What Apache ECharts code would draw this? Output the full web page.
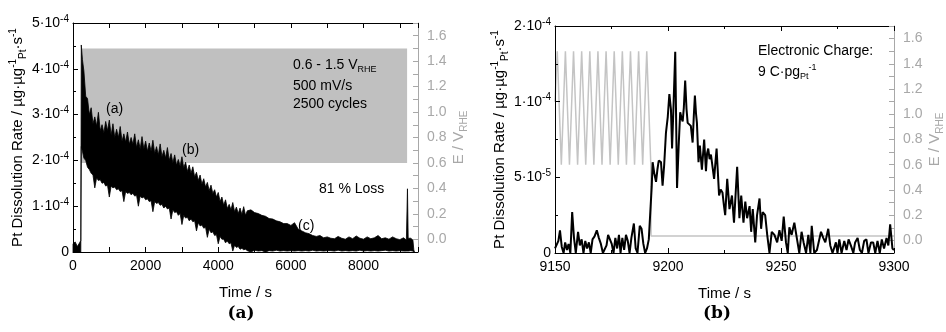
<!DOCTYPE html>
<html><head><meta charset="utf-8">
<script src="https://cdn.jsdelivr.net/npm/echarts@6/dist/echarts.min.js"></script>
<style>html,body{margin:0;padding:0;background:#fff}#c{width:946px;height:332px}</style>
</head><body><div id="c"></div>
<script>
// ---------- Panel (a): Pt dissolution during 2500 cycles ----------
// time in s; rates in units of 1e-4 µg·µg⁻¹·s⁻¹ (upper / lower envelope of the dense signal)
const timeA = [0, 60, 120, 180, 215, 228, 260,
  300, 350, 400, 450, 500, 550, 600, 650, 700, 750,
  800, 850, 900, 950, 1000, 1050, 1100, 1150, 1200, 1250,
  1300, 1350, 1400, 1450, 1500, 1550, 1600, 1650, 1700, 1750,
  1800, 1850, 1900, 1950, 2000, 2050, 2100, 2150, 2200, 2250,
  2300, 2350, 2400, 2450, 2500, 2550, 2600, 2650, 2700, 2750,
  2800, 2850, 2900, 2950, 3000, 3050, 3100, 3150, 3200, 3250,
  3300, 3350, 3400, 3450, 3500, 3550, 3600, 3650, 3700, 3750,
  3800, 3850, 3900, 3950, 4000, 4050, 4100, 4150, 4200, 4250,
  4300, 4350, 4400, 4450, 4500, 4550, 4600, 4650, 4700, 4750,
  4800, 4900, 5000, 5100, 5200, 5300, 5400, 5500, 5600, 5700,
  5800, 5900, 6000, 6100, 6200, 6300, 6400, 6500, 6600, 6700,
  6800, 6900, 7000, 7100, 7200, 7300, 7400, 7500, 7600, 7700,
  7800, 7900, 8000, 8100, 8200, 8300, 8400, 8500, 8600, 8700,
  8800, 8900, 9000, 9100,
  9180, 9210, 9230, 9300, 9360, 9385, 9400];
const upperA = [0.18, 0.22, 0.12, 0.2, 0.25, 4.52, 4.2,
  3.95, 3.4, 3.35, 3.0, 3.15, 2.8, 2.95, 2.75, 3.05, 2.65,
  2.78, 2.6, 2.85, 2.65, 2.88, 2.55, 2.8, 2.5, 2.68, 2.5,
  2.74, 2.42, 2.58, 2.4, 2.62, 2.35, 2.5, 2.35, 2.58, 2.28,
  2.45, 2.25, 2.52, 2.25, 2.42, 2.2, 2.38, 2.2, 2.44, 2.15,
  2.3, 2.12, 2.36, 2.08, 2.22, 2.05, 2.28, 2.0, 2.15, 1.95,
  2.12, 1.9, 2.02, 1.88, 2.08, 1.84, 1.96, 1.76, 1.9, 1.72,
  1.86, 1.64, 1.74, 1.56, 1.68, 1.48, 1.6, 1.42, 1.52, 1.34,
  1.46, 1.28, 1.36, 1.2, 1.3, 1.1, 1.2, 1.02, 1.14, 0.95,
  1.04, 0.92, 1.08, 0.88, 0.98, 0.84, 0.96, 0.82, 0.99, 0.8,
  0.9, 0.92, 0.86, 0.84, 0.8, 0.78, 0.73, 0.72, 0.68, 0.66,
  0.62, 0.62, 0.58, 0.64, 0.5, 0.46, 0.42, 0.4, 0.36, 0.34,
  0.36, 0.31, 0.33, 0.3, 0.29, 0.34, 0.3, 0.28, 0.33, 0.29,
  0.35, 0.3, 0.28, 0.33, 0.29, 0.31, 0.36, 0.29, 0.31, 0.28,
  0.33, 0.29, 0.27, 0.31,
  0.26, 1.38, 0.3, 0.3, 0.26, 0.05, 0];
const lowerA = [0, 0, 0, 0, 0, 2.3, 2.2,
  2.05, 2.0, 1.85, 1.8, 1.72, 1.68, 1.4, 1.62, 1.56, 1.58,
  1.5, 1.52, 1.44, 1.46, 1.2, 1.44, 1.4, 1.42, 1.36, 1.38,
  1.32, 1.34, 1.1, 1.32, 1.28, 1.3, 1.25, 1.28, 1.22, 1.24,
  1.0, 1.22, 1.18, 1.2, 1.14, 1.16, 1.1, 1.12, 0.88, 1.1,
  1.06, 1.08, 1.02, 1.04, 0.96, 1.0, 0.94, 0.96, 0.72, 0.92,
  0.86, 0.88, 0.8, 0.84, 0.6, 0.8, 0.74, 0.76, 0.68, 0.72,
  0.66, 0.68, 0.46, 0.64, 0.57, 0.59, 0.52, 0.54, 0.32, 0.5,
  0.42, 0.44, 0.36, 0.38, 0.18, 0.34, 0.28, 0.28, 0.2, 0.24,
  0.18, 0.2, 0.02, 0.15, 0.1, 0.12, 0.06, 0.08, 0.05, 0.06,
  0.03, 0.0, 0.04, 0.02, 0.03, 0.0, 0.03, 0.02, 0.04, 0.02,
  0.03, 0.02, 0.03, 0.02, 0.03, 0.02, 0.03, 0.02, 0.04, 0.02,
  0.03, 0.02, 0.03, 0.03, 0.02, 0.04, 0.02, 0.03, 0.02, 0.03,
  0.02, 0.04, 0.02, 0.03, 0.02, 0.03, 0.02, 0.03, 0.04, 0.02,
  0.03, 0.02, 0.03, 0.02,
  0.02, 0.02, 0.02, 0.03, 0.02, 0, 0];
const cycleWindowA = [230, 9200];   // s, potential cycling period
const potentialWindow = [0.6, 1.5]; // V_RHE
const yTicksA = ['0', '1·10^-4', '2·10^-4', '3·10^-4', '4·10^-4', '5·10^-4'];

// ---------- Panel (b): end of cycling ----------
// rates in units of 1e-5
const timeB = [
  9150, 9150.8, 9151.5, 9152.2, 9153, 9153.8, 9154.5, 9155.3, 9156, 9156.8,
  9157.6, 9158.4, 9159.2, 9160.2, 9161, 9161.8, 9162.6, 9163.4, 9164.2, 9165,
  9165.8, 9166.6, 9167.5, 9168.5, 9169.4, 9170.3, 9171.2, 9172, 9172.8, 9173.5,
  9174.3, 9175.1, 9175.9, 9176.7, 9177.5, 9178.3, 9179, 9179.8, 9180.6, 9181.4,
  9182.2, 9183, 9183.8, 9184.9, 9185.7, 9186.5, 9187.5, 9188.3, 9189.1, 9189.9,
  9190.7, 9191.5, 9192.2, 9192.8, 9193.2, 9194.0, 9194.7, 9195.3, 9195.9, 9196.9,
  9197.6, 9198.3, 9199.1, 9199.9, 9200.6, 9201.3, 9201.8, 9202.5, 9203.2, 9204.0,
  9204.7, 9205.4, 9206.0, 9206.5, 9207.0, 9207.6, 9208.2, 9208.7, 9209.4, 9210.1,
  9210.9, 9211.4, 9211.9, 9212.4, 9212.8, 9213.5, 9214.1, 9215.0, 9216.0, 9216.8,
  9217.3, 9217.8, 9218.4, 9219.0, 9219.7, 9220.4, 9221.0, 9221.5, 9222.0, 9222.6,
  9223.3, 9224.1, 9224.7, 9225.3, 9226.2, 9227.2, 9228.3, 9229.2, 9230.6, 9231.6,
  9232.4, 9233.4, 9234.2, 9235.0, 9236.1, 9236.8, 9237.5, 9238.6, 9239.4, 9240.5,
  9241.2, 9241.9, 9243.0, 9243.9, 9244.9, 9245.9, 9247.1, 9248.3, 9249.3, 9250.3,
  9251.2, 9252.2, 9253.0, 9253.7, 9254.7, 9255.9, 9257.1, 9258.1, 9259.1, 9260.0,
  9261.1, 9262.1, 9263.0, 9263.6, 9264.7, 9265.9, 9267.7, 9268.7, 9269.6, 9270.9,
  9271.8, 9272.8, 9274.3, 9275.0, 9275.8, 9276.8, 9278.0, 9279.0, 9279.9, 9280.9,
  9282.0, 9282.8, 9283.9, 9284.9, 9285.8, 9286.8, 9287.8, 9288.7, 9289.8, 9290.8,
  9291.7, 9292.7, 9293.7, 9294.6, 9295.6, 9296.7, 9297.5, 9298.3, 9299.3, 9300];
const rateB = [
  0.3, 0.2, 0.8, 1.5, 0.4, 0.0, 0.7, 0.2, 0.6, 0.0,
  2.7, 1.0, 0.0, 1.4, 0.5, 0.9, 0.0, 0.8, 0.3, 0.7,
  0.0, 0.9, 1.1, 1.5, 1.0, 0.6, 0.0, 0.0, 0.5, 1.2,
  1.1, 0.6, 0.0, 1.0, 0.3, 1.2, 0.0, 1.0, 0.2, 1.2,
  0.8, 0.0, 1.0, 1.95, 0.3, 0.0, 1.8, 1.6, 0.6, 0.0,
  0.3, 0.9, 0.8, 4.4, 6.0, 5.2, 4.7, 5.5, 6.1, 6.0,
  4.45, 5.8, 7.96, 9.0, 10.5, 9.5, 6.9, 10.0, 13.3, 4.3,
  7.0, 9.3, 8.9, 8.7, 9.6, 11.4, 9.5, 8.6, 8.7, 8.4,
  7.3, 9.0, 10.4, 9.2, 8.6, 6.0, 7.1, 5.5, 7.5, 5.4,
  6.6, 6.9, 6.2, 6.5, 6.5, 4.9, 6.0, 6.9, 5.5, 3.8,
  4.2, 4.0, 3.2, 2.5, 4.9, 2.9, 3.8, 2.0, 5.7, 2.3,
  3.8, 2.0, 3.4, 2.3, 3.1, 1.4, 2.9, 0.7, 2.5, 3.6,
  1.6, 2.7, 2.5, 1.2, 0.0, 1.4, 1.2, 0.7, 1.5, 0.8,
  2.4, 0.7, 0.0, 1.7, 1.2, 2.0, 0.9, 0.0, 1.4, 0.7,
  0.0, 1.2, 0.0, 1.8, 0.0, 0.2, 1.4, 1.0, 0.7, 1.6,
  0.5, 0.0, 0.7, 0.0, 0.9, 0.0, 0.8, 0.2, 0.9, 0.5,
  0.0, 0.7, 1.0, 0.2, 0.0, 0.8, 0.9, 0.0, 0.7, 0.7,
  0.0, 0.8, 0.0, 0.9, 0.3, 1.0, 0.5, 1.9, 0.3, 0.2];
const eTimeB = [9150, 9151, 9152.8, 9154.6, 9156.4, 9158.2, 9160, 9161.8, 9163.6, 9165.4,
  9167.2, 9169, 9170.8, 9172.6, 9174.4, 9176.2, 9178, 9179.8, 9181.6, 9183.4,
  9185.2, 9187, 9188.8, 9190.6, 9192.4, 9192.5, 9300];
const eValB = [1.1, 1.5, 0.6, 1.5, 0.6, 1.5, 0.6, 1.5, 0.6, 1.5,
  0.6, 1.5, 0.6, 1.5, 0.6, 1.5, 0.6, 1.5, 0.6, 1.5,
  0.6, 1.5, 0.6, 1.5, 0.6, 0.035, 0.035];
const yTicksB = ['0', '5·10^-5', '1·10^-4', '2·10^-4'];

// ---------- drawing ----------
const FONT = "'Liberation Sans', Arial, Helvetica, sans-serif";
const GRAY = '#a8a8a8';
const BLACK = '#000';

function sci(s) {
  const p = s.split('^');
  return p.length > 1 ? '{n|' + p[0] + '}{s|' + p[1] + '}' : '{n|' + p[0] + '}';
}
function richSet(color, size) {
  return {
    n: { fontSize: size, fontFamily: FONT, color: color, lineHeight: 18 },
    s: { fontSize: 10, fontFamily: FONT, color: color, lineHeight: 12, verticalAlign: 'top' },
    b: { fontSize: 10, fontFamily: FONT, color: color, lineHeight: 12, verticalAlign: 'bottom' }
  };
}
function titleRich(color) {
  return {
    n: { fontSize: 15, fontFamily: FONT, color: color, lineHeight: 20 },
    s: { fontSize: 10, fontFamily: FONT, color: color, lineHeight: 12, verticalAlign: 'top' },
    b: { fontSize: 10, fontFamily: FONT, color: color, lineHeight: 12, verticalAlign: 'bottom' }
  };
}
const rateTitle = '{n|Pt Dissolution Rate / µg·µg}{s|-1}{b|Pt}{n|·s}{s|-1}';
const eTitle = '{n|E / V}{b|RHE}';

function rightLabel(v) {
  const k = Math.round(v * 10);
  if (k < 0 || k > 16 || k % 2 !== 0) return '';
  return (k / 10).toFixed(1);
}

function bottomX(grid, min, max, interval, labelFn, minor) {
  return {
    gridIndex: grid, type: 'value', position: 'bottom', min: min, max: max, interval: interval, z: 5,
    axisLine: { onZero: false, lineStyle: { color: BLACK, width: 1 } },
    axisTick: { inside: true, length: 5, lineStyle: { color: BLACK } },
    minorTick: { show: minor, splitNumber: 2, length: 3, lineStyle: { color: BLACK } },
    splitLine: { show: false },
    axisLabel: { color: BLACK, fontSize: 14, fontFamily: FONT, margin: 7, formatter: labelFn, showMaxLabel: true },
    name: 'Time / s', nameLocation: 'middle', nameGap: 33,
    nameTextStyle: { color: BLACK, fontSize: 15, fontFamily: FONT }
  };
}
function topX(grid, min, max, interval, minor) {
  return {
    gridIndex: grid, type: 'value', position: 'top', min: min, max: max, interval: interval,
    axisLine: { onZero: false, lineStyle: { color: BLACK, width: 1 } },
    axisTick: { inside: true, length: 5, lineStyle: { color: BLACK } },
    minorTick: { show: minor, splitNumber: 2, length: 3, lineStyle: { color: BLACK } },
    splitLine: { show: false }, axisLabel: { show: false }
  };
}
function leftY(grid, max, interval, ticks) {
  return {
    gridIndex: grid, type: 'value', position: 'left', min: 0, max: max, interval: interval, z: 5,
    axisLine: { show: true, onZero: false, lineStyle: { color: BLACK, width: 1 } },
    axisTick: { show: true, inside: true, length: 5, lineStyle: { color: BLACK } },
    minorTick: { show: true, splitNumber: 2, length: 3, lineStyle: { color: BLACK } },
    splitLine: { show: false },
    axisLabel: { margin: 4, formatter: v => sci(ticks[Math.round(v / interval)] || ''), rich: richSet(BLACK, 14) },
    name: rateTitle, nameLocation: 'middle', nameGap: 44, nameRotate: 90,
    nameTextStyle: { rich: titleRich(BLACK) }
  };
}
function rightY(grid) {
  return {
    gridIndex: grid, type: 'value', position: 'right', min: -0.1, max: 1.7, interval: 0.1,
    axisLine: { show: true, onZero: false, lineStyle: { color: GRAY, width: 1 } },
    axisTick: { show: true, inside: true, length: 5, lineStyle: { color: GRAY } },
    splitLine: { show: false },
    axisLabel: { margin: 9, color: GRAY, fontSize: 14, fontFamily: FONT, formatter: rightLabel },
    name: eTitle, nameLocation: 'middle', nameGap: 31, nameRotate: 90,
    nameTextStyle: { rich: titleRich(GRAY) }
  };
}

const envelopeData = timeA.map((t, i) => [t, upperA[i] * 1e-4, lowerA[i] * 1e-4]);
const rateData = timeB.map((t, i) => [t, rateB[i] * 1e-5]);
const eData = eTimeB.map((t, i) => [t, eValB[i]]);

function label(x, y, text, opts) {
  return {
    type: 'text', x: x, y: y, silent: true, z: 10,
    style: Object.assign({ text: text, fill: BLACK, fontSize: 14, fontFamily: FONT, align: 'left', verticalAlign: 'middle' }, opts || {})
  };
}
const annRich = {
  n: { fontSize: 14, fontFamily: FONT, fill: BLACK, color: BLACK, lineHeight: 18 },
  b: { fontSize: 9, fontFamily: FONT, fill: BLACK, color: BLACK, lineHeight: 10, verticalAlign: 'bottom' },
  s: { fontSize: 9, fontFamily: FONT, fill: BLACK, color: BLACK, lineHeight: 10, verticalAlign: 'top' }
};

const chart = echarts.init(document.getElementById('c'), null, { renderer: 'canvas' });
chart.setOption({
  animation: false,
  backgroundColor: '#fff',
  grid: [
    { left: 73, top: 23, width: 345, height: 229 },
    { left: 555, top: 26, width: 341, height: 227 }
  ],
  xAxis: [
    bottomX(0, 0, 9500, 1000, v => (v % 2000 === 0 && v <= 8000) ? String(v) : '', false),
    topX(0, 0, 9500, 1000, false),
    bottomX(1, 9150, 9300, 50, v => String(v), true),
    topX(1, 9150, 9300, 50, true)
  ],
  yAxis: [
    leftY(0, 5e-4, 1e-4, yTicksA),
    rightY(0),
    leftY(1, 1.5e-4, 5e-5, yTicksB),
    rightY(1)
  ],
  series: [
    {
      type: 'line', xAxisIndex: 0, yAxisIndex: 1, z: 1, silent: true, symbol: 'none',
      data: [[cycleWindowA[0], potentialWindow[0]], [cycleWindowA[1], potentialWindow[0]]],
      lineStyle: { opacity: 0 },
      markArea: {
        silent: true, itemStyle: { color: '#c0c0c0' },
        data: [[{ xAxis: cycleWindowA[0], yAxis: potentialWindow[0] }, { xAxis: cycleWindowA[1], yAxis: potentialWindow[1] }]]
      }
    },
    {
      // dense dissolution signal drawn as the band between its upper and lower envelopes
      type: 'custom', xAxisIndex: 0, yAxisIndex: 0, z: 3, silent: true,
      data: envelopeData,
      encode: { x: 0, y: [1, 2] },
      renderItem: function (params, api) {
        if (params.dataIndex !== 0) return null;
        const top = envelopeData.map(d => api.coord([d[0], d[1]]));
        const bot = envelopeData.map(d => api.coord([d[0], d[2]])).reverse();
        return {
          type: 'polygon',
          shape: { points: top.concat(bot) },
          style: { fill: BLACK, stroke: BLACK, lineWidth: 0.8 }
        };
      }
    },
    {
      type: 'line', xAxisIndex: 2, yAxisIndex: 3, z: 2, symbol: 'none', silent: true,
      data: eData, lineStyle: { color: '#c4c4c4', width: 1.5 }
    },
    {
      type: 'line', xAxisIndex: 2, yAxisIndex: 2, z: 3, symbol: 'none', silent: true,
      data: rateData, lineStyle: { color: BLACK, width: 2 }
    }
  ],
  graphic: [
    label(293, 65, '{n|0.6 - 1.5 V}{b|RHE}', { rich: annRich }),
    label(293, 86, '500 mV/s'),
    label(293, 104, '2500 cycles'),
    label(319, 189, '81 % Loss'),
    label(106, 109, '(a)'),
    label(182, 150, '(b)'),
    label(298, 226, '(c)'),
    label(758, 51, 'Electronic Charge:'),
    label(758, 72, '{n|9 C·pg}{b|Pt}{s|-1}', { rich: annRich }),
    label(241, 314, '(a)', { fontFamily: "'DejaVu Serif', serif", fontWeight: 'bold', fontSize: 17, align: 'center' }),
    label(717, 314, '(b)', { fontFamily: "'DejaVu Serif', serif", fontWeight: 'bold', fontSize: 17, align: 'center' })
  ]
});
</script>
</body></html>
